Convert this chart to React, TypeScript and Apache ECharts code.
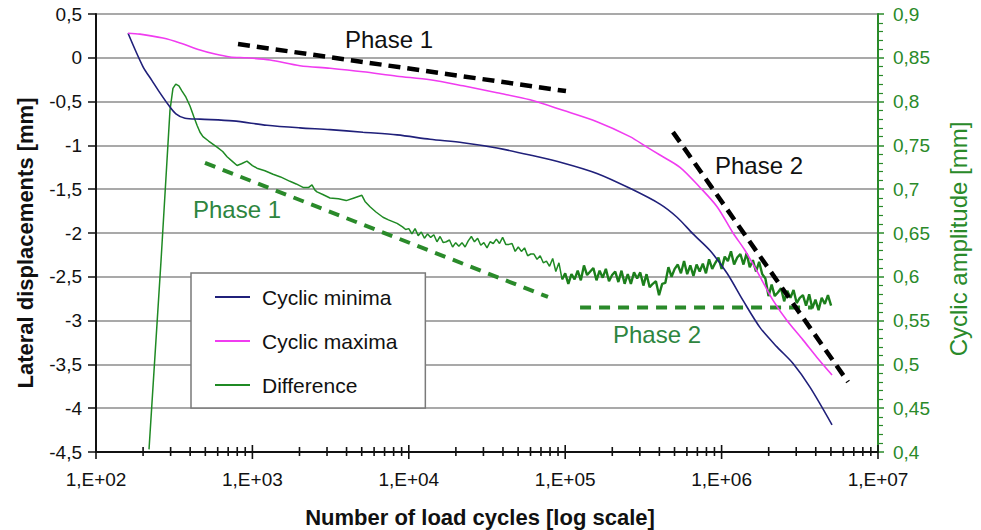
import React, { useEffect, useRef } from "react";
import * as echarts from "echarts";

const FONT = "'Liberation Sans', Arial, Helvetica, sans-serif";

// x values are log10(number of load cycles)
const maxExp = [2.205, 2.281, 2.428, 2.537, 2.665, 2.761, 2.857, 2.965, 3.113, 3.304, 3.496, 3.707, 3.925, 4.136, 4.347, 4.564, 4.775, 4.986, 5.203, 5.414, 5.523, 5.606, 5.734, 5.862, 5.971, 6.073, 6.150, 6.246, 6.329, 6.418, 6.520, 6.610, 6.706];
const maxVal = [0.28, 0.27, 0.225, 0.17, 0.09, 0.043, 0.01, 0.0, -0.025, -0.09, -0.12, -0.16, -0.21, -0.25, -0.32, -0.40, -0.48, -0.60, -0.73, -0.90, -1.02, -1.11, -1.25, -1.48, -1.70, -2.0, -2.2, -2.5, -2.77, -3.0, -3.22, -3.42, -3.62];

const minExp = [2.205, 2.30, 2.358, 2.409, 2.46, 2.511, 2.569, 2.665, 2.876, 3.093, 3.304, 3.496, 3.707, 3.925, 4.136, 4.347, 4.564, 4.775, 4.986, 5.203, 5.414, 5.606, 5.715, 5.817, 5.926, 6.035, 6.137, 6.246, 6.354, 6.457, 6.565, 6.706];
const minVal = [0.28, -0.10, -0.26, -0.40, -0.53, -0.64, -0.69, -0.70, -0.72, -0.77, -0.80, -0.82, -0.85, -0.88, -0.93, -0.97, -1.03, -1.11, -1.20, -1.32, -1.49, -1.67, -1.82, -2.01, -2.2, -2.46, -2.77, -3.08, -3.30, -3.49, -3.76, -4.19];

const diffExp = [
  2.339, 2.416, 2.454, 2.473, 2.492, 2.51, 2.53, 2.55, 2.575, 2.601, 2.625, 2.646, 2.665, 2.684, 2.72, 2.774, 2.81, 2.838, 2.87, 2.902,
  2.93, 2.965, 3.0, 3.029, 3.08, 3.132, 3.18, 3.24, 3.28, 3.324, 3.36, 3.381, 3.40, 3.413, 3.45, 3.496, 3.55, 3.60, 3.65, 3.70,
  3.72, 3.752, 3.79, 3.835, 3.87, 3.925, 3.96, 3.98,
  4.00, 4.02, 4.04, 4.06, 4.08, 4.10, 4.12, 4.14, 4.16, 4.18, 4.20, 4.22, 4.24, 4.26, 4.28, 4.30, 4.32, 4.34, 4.36, 4.38,
  4.40, 4.42, 4.44, 4.46, 4.48, 4.50, 4.52, 4.54, 4.56, 4.58, 4.60, 4.62, 4.64, 4.66, 4.68, 4.70, 4.72, 4.74, 4.76, 4.78,
  4.80, 4.82, 4.84, 4.86, 4.88, 4.90, 4.92, 4.94, 4.96, 4.98, 5.00, 5.02, 5.04, 5.06, 5.08, 5.10, 5.12, 5.14, 5.16, 5.18,
  5.20, 5.22, 5.24, 5.26, 5.28, 5.30, 5.32, 5.34, 5.36, 5.38, 5.40, 5.42, 5.44, 5.46, 5.48, 5.50, 5.52, 5.54, 5.56, 5.58,
  5.60, 5.62, 5.64, 5.66, 5.68, 5.70, 5.72, 5.74, 5.76, 5.78, 5.80, 5.82, 5.84, 5.86, 5.88, 5.90, 5.92, 5.94, 5.96, 5.98,
  6.00, 6.02, 6.04, 6.06, 6.08, 6.10, 6.12, 6.14, 6.16, 6.18, 6.20, 6.22, 6.24, 6.26, 6.28, 6.30, 6.32, 6.34, 6.36, 6.38,
  6.40, 6.42, 6.44, 6.46, 6.48, 6.50, 6.52, 6.54, 6.56, 6.58, 6.60, 6.62, 6.64, 6.66, 6.68, 6.70,
];
const diffAmp = [
  0.403, 0.619, 0.733, 0.790, 0.815, 0.820, 0.818, 0.812, 0.805, 0.795, 0.783, 0.773, 0.765, 0.760, 0.755, 0.748, 0.743, 0.737, 0.732, 0.727,
  0.729, 0.732, 0.727, 0.724, 0.721, 0.717, 0.714, 0.709, 0.706, 0.702, 0.702, 0.705, 0.699, 0.697, 0.694, 0.690, 0.689, 0.687, 0.690, 0.693,
  0.686, 0.680, 0.674, 0.668, 0.665, 0.661, 0.657, 0.654,
  0.655, 0.649, 0.655, 0.647, 0.651, 0.644, 0.649, 0.645, 0.648, 0.640, 0.646, 0.639, 0.640, 0.642, 0.634, 0.639, 0.635, 0.639, 0.634, 0.641,
  0.646, 0.640, 0.644, 0.636, 0.639, 0.633, 0.640, 0.638, 0.643, 0.638, 0.645, 0.637, 0.637, 0.638, 0.629, 0.634, 0.629, 0.633, 0.624, 0.626,
  0.626, 0.620, 0.624, 0.616, 0.618, 0.612, 0.621, 0.606, 0.616, 0.597, 0.604, 0.592, 0.603, 0.597, 0.607, 0.596, 0.613, 0.602, 0.606, 0.610,
  0.596, 0.607, 0.599, 0.609, 0.595, 0.602, 0.606, 0.594, 0.607, 0.592, 0.603, 0.592, 0.605, 0.598, 0.605, 0.590, 0.603, 0.588, 0.592, 0.595,
  0.579, 0.592, 0.593, 0.611, 0.600, 0.609, 0.614, 0.604, 0.618, 0.603, 0.613, 0.601, 0.614, 0.606, 0.615, 0.604, 0.620, 0.609, 0.616, 0.622,
  0.609, 0.623, 0.618, 0.629, 0.614, 0.622, 0.626, 0.614, 0.627, 0.611, 0.619, 0.606, 0.617, 0.603, 0.598, 0.578, 0.591, 0.578, 0.582, 0.587,
  0.572, 0.584, 0.576, 0.585, 0.570, 0.576, 0.579, 0.567, 0.580, 0.564, 0.574, 0.562, 0.576, 0.569, 0.579, 0.567,
];
// index where the curve becomes a noisy band
const diffNoisyFrom = 97;

// trend lines: [log10(cycles), value]
const phase1Black = [[2.908, 0.157], [5.005, -0.38]];
const phase2Black = [[5.689, -0.848], [6.808, -3.70]];
const phase1Green = [[2.697, 0.730], [4.89, 0.577]];
const phase2Green = [[5.095, 0.565], [6.58, 0.565]];

const xDecades = [2, 3, 4, 5, 6, 7];
const leftTicks = { min: -4.5, max: 0.5, interval: 0.5 };
const rightTicks = { min: 0.4, max: 0.9, interval: 0.05 };

const BLUE = "#20207a";
const MAGENTA = "#f03cf0";
const GREEN = "#1f8a24";
const AXGREEN = "#2a8a2a";

const toPairs = (xs: number[], ys: number[]) => xs.map((e, i) => [Math.pow(10, e), ys[i]]);
const lineToPairs = (pts: number[][]) => pts.map((p) => [Math.pow(10, p[0]), p[1]]);
const comma = (v: number) => String(parseFloat(v.toFixed(2))).replace(".", ",");

export default function App() {
  const ref = useRef<HTMLDivElement>(null);
  useEffect(() => {
    const chart = echarts.init(ref.current!, null, { renderer: "svg" });

    const tickData: number[][] = [];
    xDecades.forEach((d, i) => {
      if (i === xDecades.length - 1) {
        tickData.push([Math.pow(10, d), leftTicks.min, 1]);
        return;
      }
      for (let k = 1; k <= 9; k++) tickData.push([k * Math.pow(10, d), leftTicks.min, k === 1 ? 1 : 0]);
    });

    const diffAll = toPairs(diffExp, diffAmp);

    const option: any = {
      animation: false,
      textStyle: { fontFamily: FONT },
      grid: { left: 96, right: 103, top: 14, bottom: 78, containLabel: false },
      legend: {
        orient: "vertical",
        left: 191,
        top: 273,
        backgroundColor: "#fff",
        borderColor: "#7a7a7a",
        borderWidth: 1.5,
        borderRadius: 0,
        padding: [12, 28, 11, 24],
        itemWidth: 35,
        itemHeight: 2,
        itemGap: 20,
        icon: "rect",
        data: ["Cyclic minima", "Cyclic maxima", "Difference"],
        textStyle: { fontSize: 21, color: "#111", fontFamily: FONT, lineHeight: 24, padding: [0, 0, 0, 7] },
      },
      xAxis: {
        type: "log",
        logBase: 10,
        min: 100,
        max: 1e7,
        axisLine: { show: true, onZero: false, lineStyle: { color: "#111", width: 2 } },
        axisTick: { show: false },
        splitLine: { show: false },
        axisLabel: {
          fontSize: 19,
          color: "#111",
          fontFamily: FONT,
          margin: 18,
          formatter: (v: number) => "1,E+0" + Math.round(Math.log10(v)),
        },
      },
      yAxis: [
        {
          type: "value",
          min: leftTicks.min,
          max: leftTicks.max,
          interval: leftTicks.interval,
          axisLine: { show: true, onZero: false, lineStyle: { color: "#111", width: 2 } },
          axisTick: { show: true, length: 8, lineStyle: { color: "#111", width: 1.5 } },
          splitLine: { show: true, lineStyle: { color: "#8c8c8c", width: 1.6 } },
          axisLabel: { fontSize: 19, color: "#111", fontFamily: FONT, margin: 14, formatter: comma },
        },
        {
          type: "value",
          position: "right",
          min: rightTicks.min,
          max: rightTicks.max,
          interval: rightTicks.interval,
          axisLine: { show: true, onZero: false, lineStyle: { color: AXGREEN, width: 2 } },
          axisTick: { show: true, length: 6, lineStyle: { color: AXGREEN, width: 1.5 } },
          minorTick: { show: true, splitNumber: 5, length: 5, lineStyle: { color: AXGREEN, width: 1.2 } },
          splitLine: { show: false },
          axisLabel: { fontSize: 19, color: AXGREEN, fontFamily: FONT, margin: 15, formatter: comma },
        },
      ],
      series: [
        {
          name: "Cyclic minima",
          type: "line",
          yAxisIndex: 0,
          symbol: "none",
          smooth: 0.3,
          data: toPairs(minExp, minVal),
          lineStyle: { color: BLUE, width: 1.6 },
          itemStyle: { color: BLUE },
          z: 4,
        },
        {
          name: "Cyclic maxima",
          type: "line",
          yAxisIndex: 0,
          symbol: "none",
          smooth: 0.3,
          data: toPairs(maxExp, maxVal),
          lineStyle: { color: MAGENTA, width: 1.6 },
          itemStyle: { color: MAGENTA },
          z: 4,
        },
        {
          name: "Difference",
          type: "line",
          yAxisIndex: 1,
          symbol: "none",
          data: diffAll.slice(0, diffNoisyFrom + 1),
          lineStyle: { color: GREEN, width: 1.5 },
          itemStyle: { color: GREEN },
          z: 3,
        },
        {
          name: "Difference",
          type: "line",
          yAxisIndex: 1,
          symbol: "none",
          data: diffAll.slice(diffNoisyFrom),
          lineStyle: { color: "#1c7f1c", width: 2.4 },
          itemStyle: { color: GREEN },
          z: 3,
        },
        {
          name: "p1b", type: "line", yAxisIndex: 0, symbol: "none", z: 5,
          data: lineToPairs(phase1Black),
          lineStyle: { color: "#000", width: 4.5, type: [12, 7] },
        },
        {
          name: "p2b", type: "line", yAxisIndex: 0, symbol: "none", z: 5,
          data: lineToPairs(phase2Black),
          lineStyle: { color: "#000", width: 4.5, type: [12, 7] },
        },
        {
          name: "p1g", type: "line", yAxisIndex: 1, symbol: "none", z: 5,
          data: lineToPairs(phase1Green),
          lineStyle: { color: AXGREEN, width: 4, type: [11, 8] },
        },
        {
          name: "p2g", type: "line", yAxisIndex: 1, symbol: "none", z: 2,
          data: lineToPairs(phase2Green),
          lineStyle: { color: AXGREEN, width: 4, type: [11, 8] },
        },
        {
          name: "xticks",
          type: "custom",
          yAxisIndex: 0,
          silent: true,
          clip: false,
          z: 6,
          data: tickData,
          renderItem: (_p: any, api: any) => {
            const pt = api.coord([api.value(0), api.value(1)]);
            const major = api.value(2) === 1;
            return {
              type: "line",
              shape: { x1: pt[0], y1: pt[1] - (major ? 7 : 5), x2: pt[0], y2: pt[1] + (major ? 7 : 4) },
              style: { stroke: "#111", lineWidth: 1.6 },
            };
          },
        },
      ],
      graphic: [
        { type: "text", x: 389, y: 39, style: { text: "Phase 1", font: `24px ${FONT}`, fill: "#111", align: "center", verticalAlign: "middle" } },
        { type: "text", x: 759, y: 165, style: { text: "Phase 2", font: `24px ${FONT}`, fill: "#111", align: "center", verticalAlign: "middle" } },
        { type: "text", x: 237, y: 209, style: { text: "Phase 1", font: `24px ${FONT}`, fill: "#2e8540", align: "center", verticalAlign: "middle" } },
        { type: "text", x: 657, y: 334, style: { text: "Phase 2", font: `24px ${FONT}`, fill: "#2e8540", align: "center", verticalAlign: "middle" } },
        { type: "text", x: 25, y: 243, rotation: Math.PI / 2, style: { text: "Lateral displacements [mm]", font: `bold 22px ${FONT}`, fill: "#111", align: "center", verticalAlign: "middle" } },
        { type: "text", x: 958, y: 239, rotation: Math.PI / 2, style: { text: "Cyclic amplitude [mm]", font: `24px ${FONT}`, fill: AXGREEN, align: "center", verticalAlign: "middle" } },
        { type: "text", x: 480, y: 517, style: { text: "Number of load cycles [log scale]", font: `bold 22px ${FONT}`, fill: "#111", align: "center", verticalAlign: "middle" } },
      ],
    };
    chart.setOption(option);
    return () => chart.dispose();
  }, []);
  return <div ref={ref} style={{ position: "fixed", left: 0, top: 0, width: 981, height: 530, background: "#fff" }} />;
}
